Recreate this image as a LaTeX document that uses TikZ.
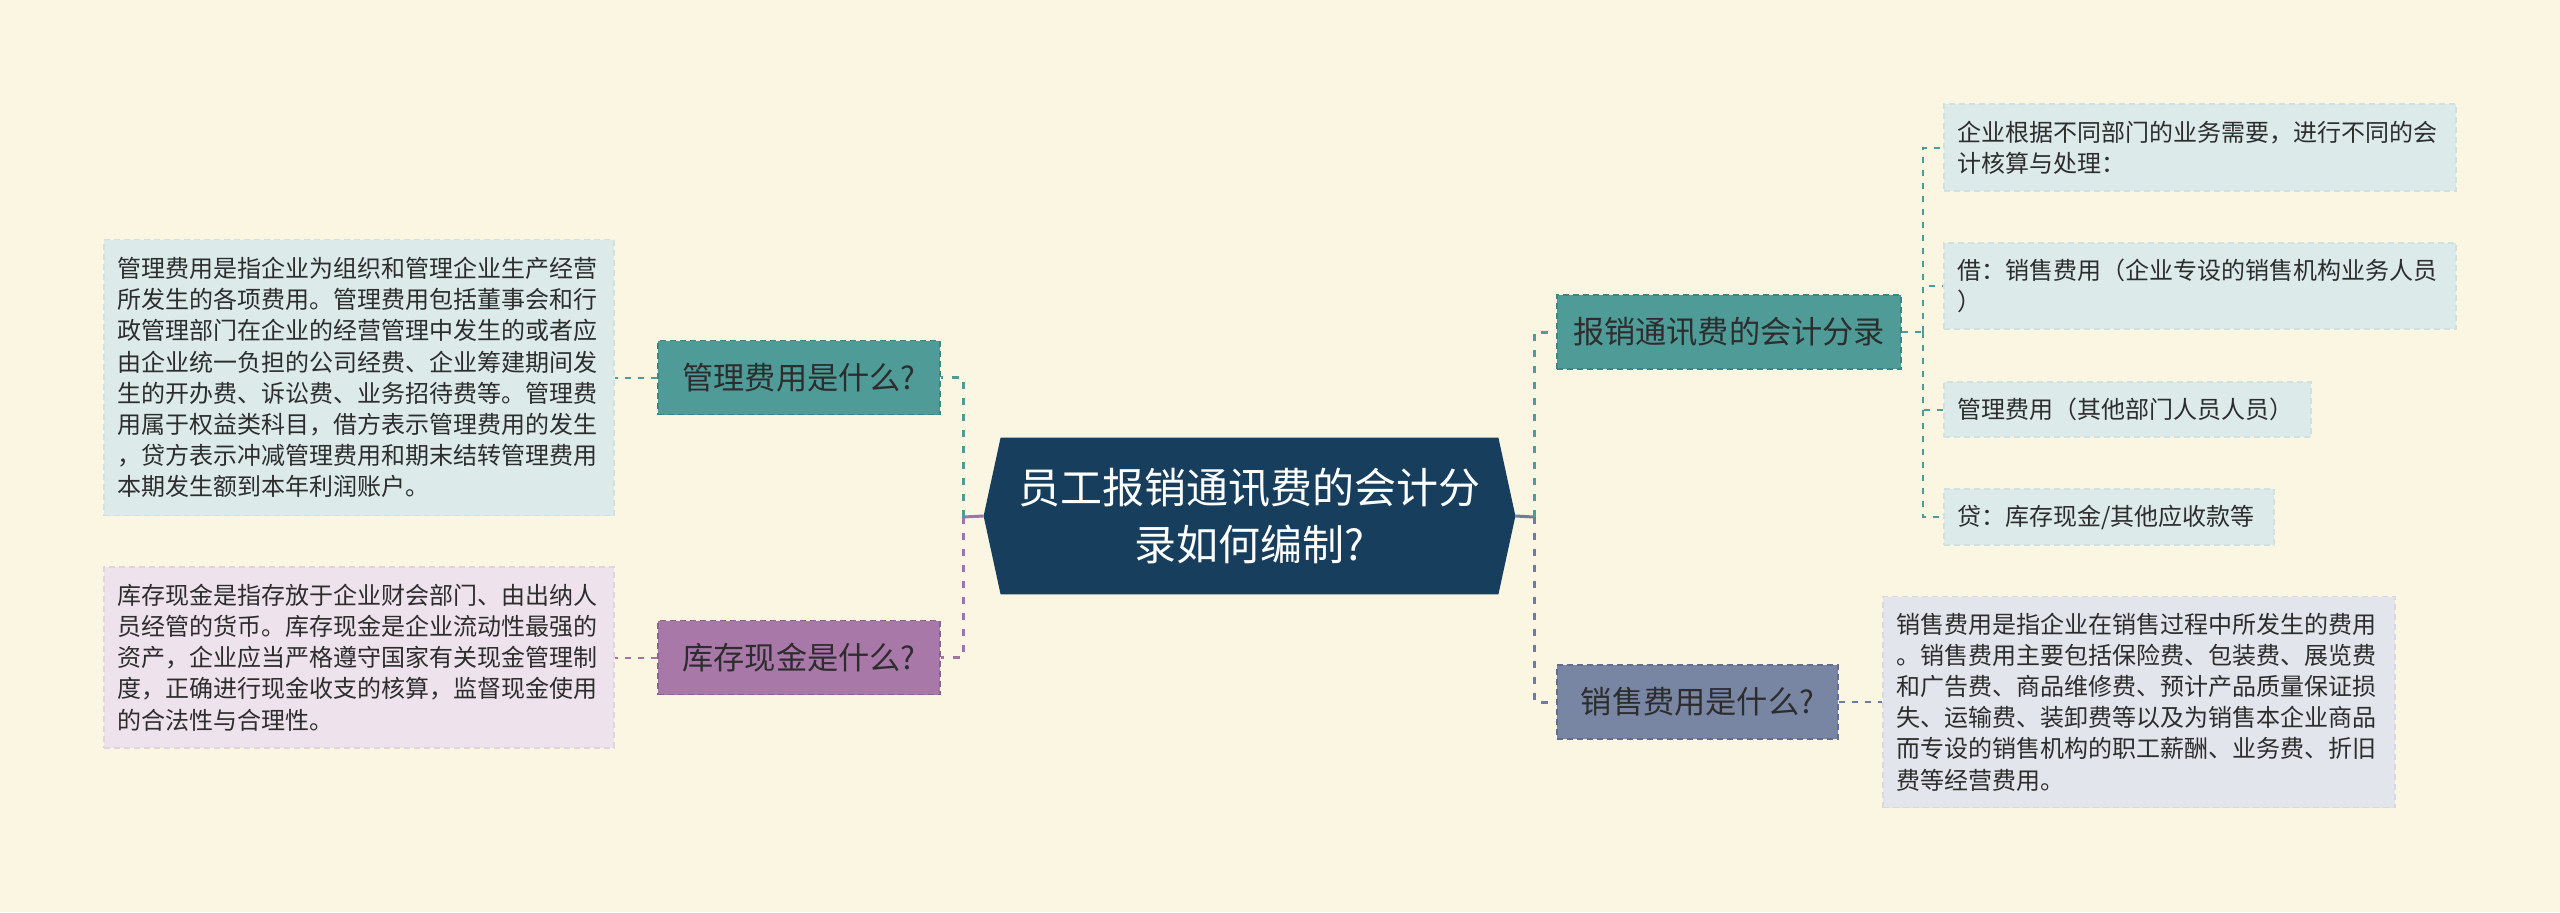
\documentclass[tikz,border=0pt]{standalone}
\usepackage{fontspec}
\setmainfont{Noto Sans CJK SC}
\definecolor{bg}{RGB}{250,246,226}
\definecolor{txt}{RGB}{45,45,45}
\definecolor{tealnode}{RGB}{78,155,152}
\definecolor{tealborder}{RGB}{62,134,131}
\definecolor{purpnode}{RGB}{168,120,168}
\definecolor{purpborder}{RGB}{142,98,142}
\definecolor{slatenode}{RGB}{120,133,163}
\definecolor{slateborder}{RGB}{98,110,140}
\definecolor{navy}{RGB}{23,62,92}
\definecolor{tealfill}{RGB}{220,235,234}
\definecolor{tealedge}{RGB}{207,226,225}
\definecolor{purpfill}{RGB}{238,226,236}
\definecolor{purpedge}{RGB}{226,211,224}
\definecolor{slatefill}{RGB}{226,229,236}
\definecolor{slateedge}{RGB}{212,217,227}
\definecolor{tealline}{RGB}{78,155,152}
\definecolor{purpline}{RGB}{163,115,163}
\definecolor{slateline}{RGB}{112,124,156}
\tikzset{
  topic/.style={draw, line width=0.7pt, dash pattern=on 3pt off 2pt, text=txt,
    font=\fontsize{15.6pt}{18pt}\selectfont, minimum height=37pt, inner sep=0pt},
  desc/.style={draw, line width=0.7pt, dash pattern=on 3pt off 2pt, align=left,
    inner xsep=6.5pt, inner ysep=4pt, text=txt,
    font=\fontsize{12pt}{15.6pt}\selectfont},
  mainline/.style={line width=1.5pt, dash pattern=on 3.5pt off 4.5pt},
  stubline/.style={line width=1.5pt},
  subline/.style={line width=1pt, dash pattern=on 3pt off 3.5pt},
}
\begin{document}
\begin{tikzpicture}[x=0.5pt,y=-0.5pt]
\fill[bg] (0,0) rectangle (2560,912);
\useasboundingbox (0,0) rectangle (2560,912);

% centre
\node[minimum width=265.5pt, minimum height=78pt, inner sep=0pt] (ctr) at (1249.5,516) {};
\fill[navy] (ctr.west) -- ([xshift=8.5pt]ctr.north west) -- ([xshift=-8.5pt]ctr.north east)
  -- (ctr.east) -- ([xshift=-8.5pt]ctr.south east) -- ([xshift=8.5pt]ctr.south west) -- cycle;
\node[text=white, align=center, font=\fontsize{21pt}{28.5pt}\selectfont] (ctrlabel) at (ctr) {员工报销通讯费的会计分\\录如何编制?};

% left topics
\node[topic, fill=tealnode, draw=tealborder, minimum width=141pt] (m1) at (799,377.5) {管理费用是什么?};
\node[topic, fill=purpnode, draw=purpborder, minimum width=141pt] (m2) at (799,657.5) {库存现金是什么?};

% left descriptions
\node[desc, fill=tealfill, draw=tealedge, text width=242pt, minimum height=138pt] (d1) at (359,377.5) {管理费用是指企业为组织和管理企业生产经营\\所发生的各项费用。管理费用包括董事会和行\\政管理部门在企业的经营管理中发生的或者应\\由企业统一负担的公司经费、企业筹建期间发\\生的开办费、诉讼费、业务招待费等。管理费\\用属于权益类科目，借方表示管理费用的发生\\，贷方表示冲减管理费用和期末结转管理费用\\本期发生额到本年利润账户。};
\node[desc, fill=purpfill, draw=purpedge, text width=242pt, minimum height=90.5pt] (d2) at (359,657.5) {库存现金是指存放于企业财会部门、由出纳人\\员经管的货币。库存现金是企业流动性最强的\\资产，企业应当严格遵守国家有关现金管理制\\度，正确进行现金收支的核算，监督现金使用\\的合法性与合理性。};

% right topics
\node[topic, fill=tealnode, draw=tealborder, minimum width=172pt] (r1) at (1729,332) {报销通讯费的会计分录};
\node[topic, fill=slatenode, draw=slateborder, minimum width=140.5pt] (r2) at (1697.5,702) {销售费用是什么?};

% right descriptions
\node[desc, fill=tealfill, draw=tealedge, text width=243pt, minimum height=43.5pt] (a) at (2200,147.5) {企业根据不同部门的业务需要，进行不同的会\\计核算与处理：};
\node[desc, fill=tealfill, draw=tealedge, text width=243pt, minimum height=43pt] (b) at (2200,286) {借：销售费用（企业专设的销售机构业务人员\\）};
\node[desc, fill=tealfill, draw=tealedge, text width=170.5pt, minimum height=27.5pt] (c) at (2127.5,409.5) {管理费用（其他部门人员人员）};
\node[desc, fill=tealfill, draw=tealedge, text width=152pt, minimum height=28pt] (d) at (2109,517) {贷：库存现金/其他应收款等};
\node[desc, fill=slatefill, draw=slateedge, text width=243pt, minimum height=105.5pt] (s) at (2139,702) {销售费用是指企业在销售过程中所发生的费用\\。销售费用主要包括保险费、包装费、展览费\\和广告费、商品维修费、预计产品质量保证损\\失、运输费、装卸费等以及为销售本企业商品\\而专设的销售机构的职工薪酬、业务费、折旧\\费等经营费用。};

% junctions
\coordinate (jl) at (963,517);
\coordinate (jr) at (1534,517);
\coordinate (jr2) at (1923,332);

% main connectors
\draw[stubline, purpline] (ctr.west) -- (jl);
\draw[mainline, tealline] (jl) |- (m1.east);
\draw[mainline, purpline] (jl) |- (m2.east);
\draw[stubline, slateline] (ctr.east) -- (jr);
\draw[mainline, tealline] (jr) |- (r1.west);
\draw[mainline, slateline] (jr) |- (r2.west);

% sub connectors
\draw[subline, tealline] (m1.west) -- (d1.east);
\draw[subline, purpline] (m2.west) -- (d2.east);
\draw[subline, slateline] (r2.east) -- (s.west);
\draw[subline, tealline] (r1.east) -- (jr2);
\draw[subline, tealline] (jr2) |- (a.west);
\draw[subline, tealline] (jr2) |- (b.west);
\draw[subline, tealline] (jr2) |- (c.west);
\draw[subline, tealline] (jr2) |- (d.west);
\end{tikzpicture}
\end{document}
